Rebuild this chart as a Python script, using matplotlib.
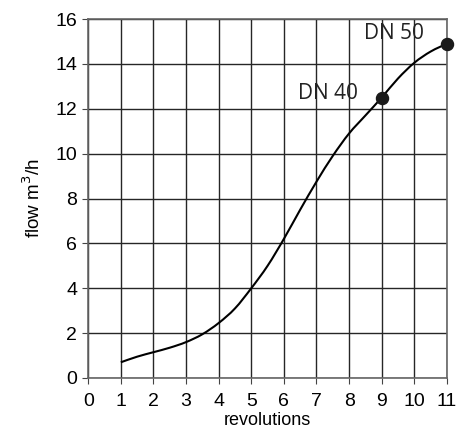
import matplotlib
matplotlib.use("Agg")
import matplotlib.pyplot as plt
from matplotlib.path import Path
from matplotlib.patches import PathPatch
import numpy as np

# curve
revolutions = [1.0, 1.5, 2.0, 2.5, 3.0, 3.5, 4.0, 4.5, 5.0, 5.5, 6.0,
               6.5, 7.0, 7.5, 8.0, 8.5, 9.0, 9.5, 10.0, 10.5, 11.0]
flow = [0.7, 0.95, 1.15, 1.35, 1.6, 1.95, 2.45, 3.1, 4.0, 5.0, 6.2,
        7.5, 8.75, 9.9, 10.9, 11.7, 12.5, 13.35, 14.05, 14.55, 14.9]

# marked sizes
dn_labels = ["DN 40", "DN 50"]
dn_x = [9, 11]
dn_y = [12.5, 14.9]

plt.rcParams['font.family'] = ['Liberation Sans', 'DejaVu Sans']

fig = plt.figure(figsize=(4.57, 4.32), dpi=100)
ax = fig.add_axes([0.193, 0.125, 0.785, 0.831])

# smooth curve through the read points (Catmull-Rom as cubic Bezier)
pts = np.column_stack([revolutions, flow])
verts = [pts[0]]
codes = [Path.MOVETO]
for i in range(len(pts) - 1):
    p0 = pts[max(i - 1, 0)]
    p1 = pts[i]
    p2 = pts[i + 1]
    p3 = pts[min(i + 2, len(pts) - 1)]
    verts += [p1 + (p2 - p0) / 6, p2 - (p3 - p1) / 6, p2]
    codes += [Path.CURVE4] * 3
ax.add_patch(PathPatch(Path(verts, codes), fill=False, color="black",
                       lw=1.5, zorder=3))

ax.scatter(dn_x, dn_y, s=75, color="#1a1a1a", zorder=4, clip_on=False)
offsets = [(-0.72, 0.2), (-0.7, 0.45)]
for lab, x, y, (dx, dy) in zip(dn_labels, dn_x, dn_y, offsets):
    ax.text(x + dx, y + dy, lab, ha="right", va="center",
            fontsize=15, family="Open Sans", color="#222222")

ax.set_xlim(0, 11)
ax.set_ylim(0, 16)
ax.set_xticks(range(0, 12))
ax.set_yticks(range(0, 17, 2))
ax.grid(True, color="#262626", lw=1.0)
for s in ax.spines.values():
    s.set_color("#666666")
    s.set_linewidth(1.2)
ax.tick_params(labelsize=14, length=4, color="#444444")
ax.tick_params(axis="x", pad=7)
ax.tick_params(axis="y", pad=4)
ax.set_xlabel("revolutions", fontsize=13, labelpad=1)
ax.set_ylabel("flow m$^3$/h", fontsize=13.5, labelpad=8)

fig.savefig("out.png", dpi=100)
